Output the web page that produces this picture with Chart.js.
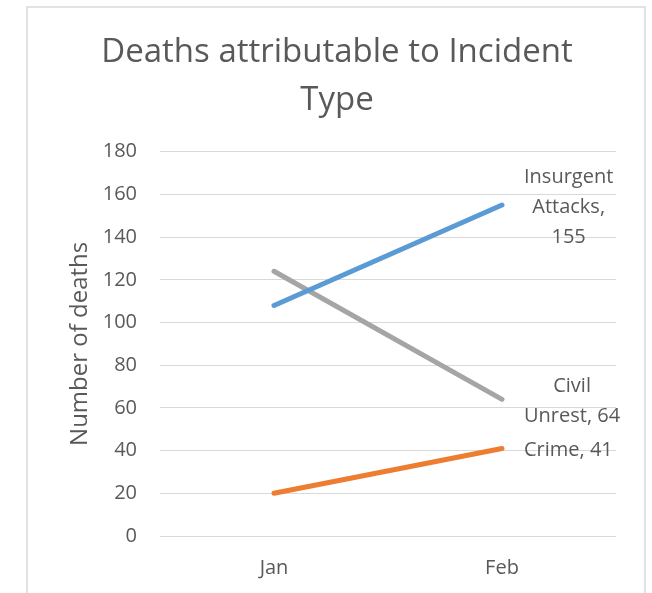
<!DOCTYPE html>
<html>
<head>
<meta charset="utf-8">
<script src="https://cdn.jsdelivr.net/npm/chart.js@4/dist/chart.umd.min.js"></script>
<style>
  html, body { margin: 0; padding: 0; background: #ffffff; }
  #wrap { position: relative; width: 652px; height: 593px; overflow: hidden; }
  #frame { position: absolute; left: 26px; top: 6px; width: 620px; height: 620px;
           border: 2px solid #E2E2E2; box-sizing: border-box; pointer-events: none; }
  canvas { position: absolute; left: 0; top: 0; }
</style>
</head>
<body>
<div id="wrap">
  <canvas id="chart" width="652" height="593"></canvas>
  <div id="frame"></div>
</div>
<script>
// Monthly deaths by incident type
const months = ['Jan', 'Feb'];
const seriesNames = ['Insurgent Attacks', 'Civil Unrest', 'Crime'];
const insurgentAttacks = [108, 155];
const civilUnrest = [124, 64];
const crime = [20, 41];
const yTicks = [0, 20, 40, 60, 80, 100, 120, 140, 160, 180];

const seriesColors = ['#5B9BD5', '#A5A5A5', '#ED7D31'];
const textColor = '#595959';
const FONT = '"Open Sans", "Liberation Sans", sans-serif';

// Greedy word wrap for the end-of-line labels
function wrapWords(ctx, text, maxWidth) {
  const words = text.split(' ');
  const lines = [];
  let cur = '';
  for (const w of words) {
    const test = cur ? cur + ' ' + w : w;
    if (cur && ctx.measureText(test).width > maxWidth) {
      lines.push(cur);
      cur = w;
    } else {
      cur = test;
    }
  }
  if (cur) lines.push(cur);
  return lines;
}

// Series name and value written to the right of the last point of each line
const endLabels = {
  id: 'endLabels',
  afterDatasetsDraw(chart) {
    const ctx = chart.ctx;
    ctx.save();
    ctx.font = '20px ' + FONT;
    ctx.fillStyle = textColor;
    ctx.textAlign = 'center';
    ctx.textBaseline = 'middle';
    const lineH = 30;
    chart.data.datasets.forEach((ds, i) => {
      const meta = chart.getDatasetMeta(i);
      const last = ds.data.length - 1;
      const pt = meta.data[last];
      const lines = wrapWords(ctx, ds.label + ', ' + ds.data[last], 104);
      const maxW = Math.max(...lines.map(l => ctx.measureText(l).width));
      const cx = pt.x + 22 + maxW / 2;
      const y0 = pt.y + 2 - (lines.length - 1) * lineH / 2;
      lines.forEach((l, k) => ctx.fillText(l, cx, y0 + k * lineH));
    });
    ctx.restore();
  }
};

new Chart(document.getElementById('chart'), {
  type: 'line',
  data: {
    labels: months,
    datasets: [
      { label: seriesNames[0], data: insurgentAttacks, borderColor: seriesColors[0] },
      { label: seriesNames[1], data: civilUnrest, borderColor: seriesColors[1] },
      { label: seriesNames[2], data: crime, borderColor: seriesColors[2] }
    ].map(d => Object.assign(d, {
      borderWidth: 5,
      borderCapStyle: 'round',
      pointRadius: 0,
      pointHoverRadius: 0,
      fill: false,
      tension: 0
    }))
  },
  options: {
    responsive: false,
    animation: false,
    layout: { padding: { left: 58, right: 36, top: 0, bottom: 0 } },
    plugins: {
      legend: { display: false },
      tooltip: { enabled: false },
      title: {
        display: true,
        text: ['Deaths attributable to Incident', 'Type'],
        color: textColor,
        font: { family: FONT, size: 33, weight: 'normal', lineHeight: 1.45 },
        padding: { top: 29, bottom: 27 }
      }
    },
    scales: {
      x: {
        offset: true,
        grid: { display: false, drawTicks: false },
        border: { display: false },
        ticks: { color: textColor, font: { family: FONT, size: 20 }, padding: 20 },
        afterFit(scale) { scale.height = 593 - 536; }
      },
      y: {
        min: 0,
        max: 180,
        afterBuildTicks(scale) { scale.ticks = yTicks.map(v => ({ value: v })); },
        grid: { color: '#D9D9D9', lineWidth: 1, drawTicks: false },
        border: { display: false },
        ticks: { color: textColor, font: { family: FONT, size: 20 }, padding: 23 },
        title: {
          display: true,
          text: 'Number of deaths',
          color: textColor,
          font: { family: FONT, size: 24 },
          padding: { top: 8, bottom: 0 }
        },
        afterFit(scale) { scale.width = 160 - 58; }
      }
    }
  },
  plugins: [endLabels]
});
</script>
</body>
</html>
